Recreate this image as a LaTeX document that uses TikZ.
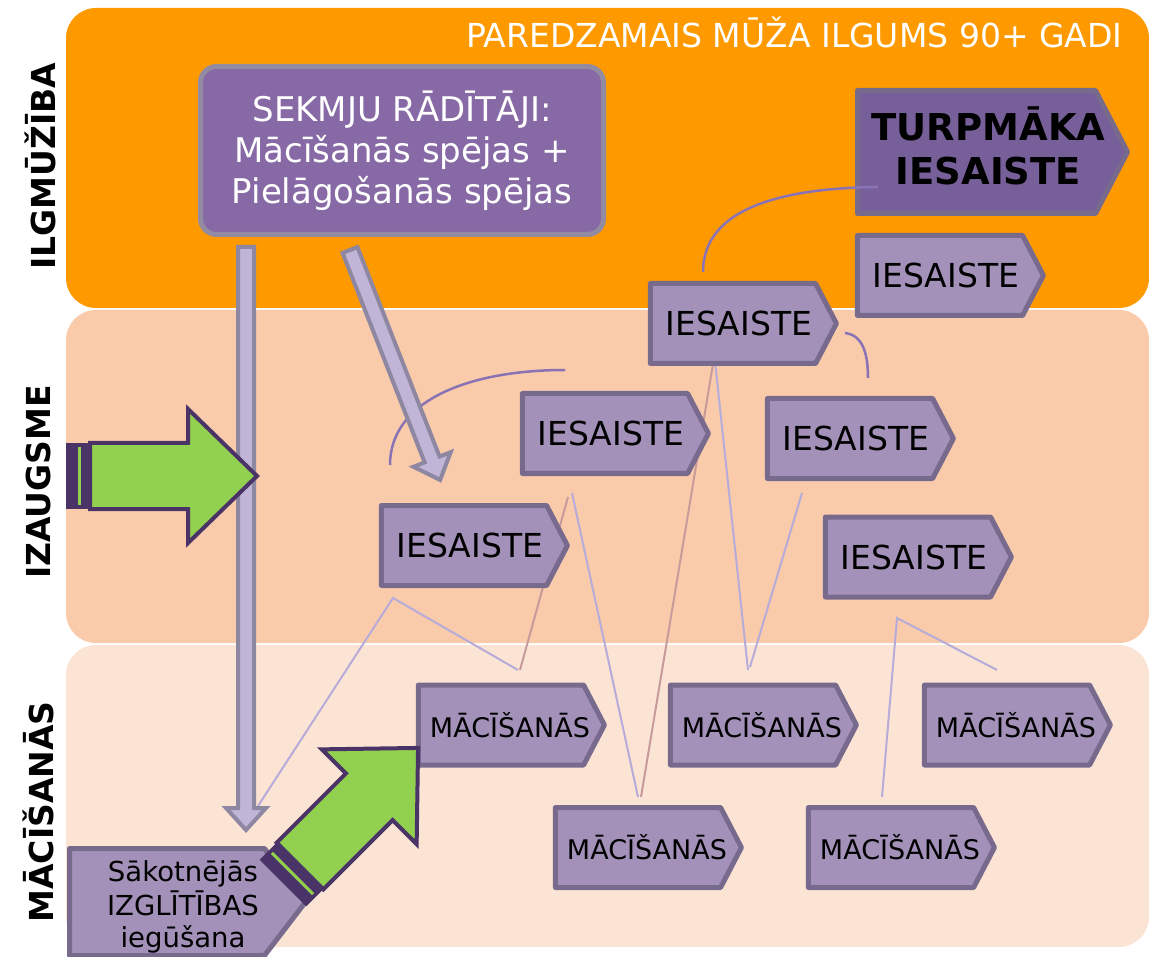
\documentclass[tikz,border=0pt]{standalone}
\usepackage{fontspec}
\setmainfont{DejaVu Sans}
\usetikzlibrary{shapes.symbols}

\definecolor{bandtop}{HTML}{FE9A00}
\definecolor{bandmid}{HTML}{F9CBAB}
\definecolor{bandlow}{HTML}{FCE4D5}
\definecolor{boxfill}{HTML}{A391BA}
\definecolor{boxline}{HTML}{786A8D}
\definecolor{goalfill}{HTML}{77609A}
\definecolor{skfill}{HTML}{8669A5}
\definecolor{skline}{HTML}{938BA2}
\definecolor{lavfill}{HTML}{C0B4D7}
\definecolor{lavline}{HTML}{8E87A1}
\definecolor{grfill}{HTML}{92D050}
\definecolor{grline}{HTML}{4A3366}
\definecolor{thinlav}{HTML}{B6ABD9}
\definecolor{thinbrown}{HTML}{C79A9C}
\definecolor{curvecol}{HTML}{8A73B5}

\newcommand\stack[1]{\begin{tabular}{@{}c@{}}#1\end{tabular}}

\begin{document}
\begin{tikzpicture}[
  x=1pt, y=-1pt,
  band/.style = {rounded corners=30pt},
  nudge/.style = {execute at begin node={\hspace*{#1}},
                  execute at end node={\hspace*{-#1}}},
  engage/.style = {signal, signal to=east, signal pointer angle=125,
                   fill=boxfill, draw=boxline, line width=5pt, line join=round,
                   minimum width=186pt, minimum height=80pt, inner sep=0pt,
                   nudge=6pt, font=\fontsize{33}{38}\selectfont},
  learn/.style = {engage, nudge=3pt, font=\fontsize{27}{32}\selectfont},
  goalbox/.style = {engage, fill=goalfill, minimum width=270pt, minimum height=123pt,
                    nudge=6pt, font=\fontsize{37}{44}\bfseries\selectfont},
  startbox/.style = {engage, signal pointer angle=105, minimum width=236pt,
                     minimum height=107pt, nudge=10pt,
                     font=\fontsize{27.5}{32}\selectfont},
  sidelabel/.style = {rotate=90, font=\fontsize{33}{36}\bfseries\selectfont},
  thin/.style = {line width=2pt},
  curve/.style = {draw=curvecol, line width=2.5pt},
  pics/stripearrow/.style = {code={
      \fill[grline] (0,-33) rectangle (24,33);
      \draw[grfill, line width=3pt] (13.5,-29) -- (13.5,29);
      \draw[fill=grfill, draw=grline, line width=4pt, line join=miter]
        (24,-33) -- (122,-33) -- (122,-67) -- (191,0) -- (122,67) -- (122,33) -- (24,33) -- cycle;
  }},
  pics/lavarrow/.style = {code={
      \draw[fill=lavfill, draw=lavline, line width=4pt, line join=miter]
        (0,-8) -- (#1-22,-8) -- (#1-22,-20) -- (#1,0) -- (#1-22,20) -- (#1-22,8) -- (0,8) -- cycle;
  }},
]
\useasboundingbox (0,0) rectangle (1149,957);

% bands
\fill[bandtop, band] (66,8) rectangle (1149,308);
\fill[bandmid, band] (66,310) rectangle (1149,643);
\fill[bandlow, band] (66,645) rectangle (1149,947);

\node[sidelabel] (lblA) at (40,166) {ILGMŪŽĪBA};
\node[sidelabel] (lblB) at (38,482) {IZAUGSME};
\node[sidelabel] (lblC) at (38,812) {MĀCĪŠANĀS};

\node[white, anchor=base east, font=\fontsize{33}{36}\selectfont] (title) at (1126,48)
  {PAREDZAMAIS MŪŽA ILGUMS 90+ GADI};

\node[fill=skfill, draw=skline, line width=5pt, rounded corners=16pt,
      minimum width=403pt, minimum height=168pt, align=center, text=white,
      font=\fontsize{34}{41}\selectfont] (skm) at (402,150.5)
  {SEKMJU RĀDĪTĀJI:\\ Mācīšanās spējas +\\ Pielāgošanās spējas};

% thin lines (drawn first, under boxes)
\coordinate (p1) at (258,806);  \coordinate (p2) at (393,598);  \coordinate (p3) at (518,670);
\coordinate (p4) at (520,670);  \coordinate (p5) at (568,497);
\coordinate (p6) at (572,493);  \coordinate (p7) at (638,797);
\coordinate (p8) at (641,797);  \coordinate (p9) at (716,346);
\coordinate (p10) at (714,352); \coordinate (p11) at (748,670);
\coordinate (p12) at (750,667); \coordinate (p13) at (802,493);
\coordinate (p14) at (882,797); \coordinate (p15) at (897,618); \coordinate (p16) at (997,670);
\draw[thin, thinlav] (p1) -- (p2) -- (p3);
\draw[thin, thinbrown] (p4) -- (p5);
\draw[thin, thinlav] (p6) -- (p7);
\draw[thin, thinbrown] (p8) -- (p9);
\draw[thin, thinlav] (p10) -- (p11);
\draw[thin, thinlav] (p12) -- (p13);
\draw[thin, thinlav] (p14) -- (p15) -- (p16);

\node[goalbox] (goal) at (976.5,152) {\stack{TURPMĀKA\\ IESAISTE}};

\node[engage] (i1) at (940,275.5) {IESAISTE};
\node[engage] (i2) at (733,323.5) {IESAISTE};
\node[engage] (i3) at (605,433.5) {IESAISTE};
\node[engage] (i4) at (850,438.5) {IESAISTE};
\node[engage] (i5) at (464,545.5) {IESAISTE};
\node[engage] (i6) at (908,557) {IESAISTE};

\node[learn] (m1) at (501,725) {MĀCĪŠANĀS};
\node[learn] (m2) at (753,725) {MĀCĪŠANĀS};
\node[learn] (m3) at (1007,725) {MĀCĪŠANĀS};
\node[learn] (m4) at (638,847.5) {MĀCĪŠANĀS};
\node[learn] (m5) at (891,847.5) {MĀCĪŠANĀS};

\node[startbox] (start) at (167,902)
  {\raisebox{-6pt}[\height][\depth]{\stack{Sākotnējās\\ IZGLĪTĪBAS\\ iegūšana}}};

% curved links
\coordinate (c1) at (703,272);  \coordinate (c2) at (878,187);
\coordinate (c3) at (845,333);  \coordinate (c4) at (868,378);
\coordinate (c5) at (390,465);  \coordinate (c6) at (565,370);
\draw[curve] (c1) .. controls (703,205) and (790,188) .. (c2);
\draw[curve] (c3) .. controls (862,335) and (868,352) .. (c4);
\draw[curve] (c5) .. controls (390,400) and (470,370) .. (c6);

% block arrows
\pic[rotate=-90] at (246,247) {lavarrow=583};
\pic[rotate=-68.6] at (350,250) {lavarrow=247};
\pic at (66,476) {stripearrow};
\pic[rotate=45] at (283,883) {stripearrow};
\end{tikzpicture}
\end{document}
